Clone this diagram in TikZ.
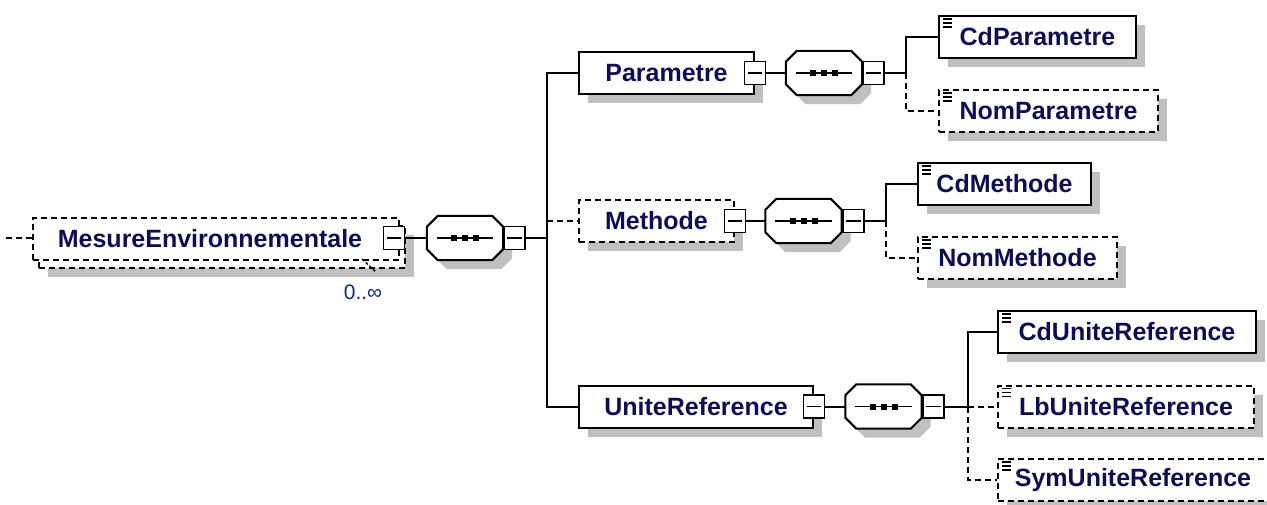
\documentclass[tikz,border=0pt]{standalone}
\usepackage{fontspec}
\setmainfont{Liberation Sans}
\usetikzlibrary{shadows}
\definecolor{txt}{RGB}{12,14,80}
\definecolor{lbl}{RGB}{20,40,120}
\definecolor{shd}{RGB}{192,192,192}
\newcommand\octpath[1]{([xshift=11pt]#1.north west) -- ([xshift=-11pt]#1.north east) -- ([yshift=-11pt]#1.north east) -- ([yshift=11pt]#1.south east) -- ([xshift=-11pt]#1.south east) -- ([xshift=11pt]#1.south west) -- ([yshift=11pt]#1.south west) -- ([yshift=-11pt]#1.north west) -- cycle}
\newcommand\seqdraw[1]{%
  \fill[shd, transform canvas={shift={(9pt,-9pt)}}] \octpath{#1};
  \draw[line width=2pt, fill=white] \octpath{#1};
  \draw[line width=1.8pt] ([xshift=10pt]#1.west) -- ([xshift=-10pt]#1.east);
  \foreach \dx in {-11,0,11} {\fill ([xshift=\dx pt]#1.center) +(-3pt,-3pt) rectangle +(3pt,3pt);}
}
\newcommand\minusline[1]{\draw[line width=1.6pt] ([xshift=4pt]#1.west) -- ([xshift=-4pt]#1.east);}
\tikzset{
  boxbase/.style={draw=black, line width=2pt, fill=white, minimum height=42pt, inner sep=0pt,
    font=\fontsize{25}{30}\selectfont\bfseries, text=txt},
  shadowed/.style={drop shadow={shadow xshift=9pt, shadow yshift=-9pt, fill=shd, opacity=1}},
  req/.style={boxbase, shadowed},
  opt/.style={boxbase, shadowed, dash pattern=on 6pt off 4pt},
  optplain/.style={boxbase, dash pattern=on 6pt off 4pt},
  minusbox/.style={draw, line width=1.8pt, fill=white, minimum width=21pt, minimum height=23pt, inner sep=0pt},
  seqnode/.style={minimum width=76pt, minimum height=44pt, inner sep=0pt},
  conn/.style={line width=2pt},
  optconn/.style={line width=2pt, dash pattern=on 6pt off 4pt},
}
\newcommand\elicon[1]{\foreach \dy in {4,8,12} {\draw[line width=1.6pt] ([xshift=5pt,yshift=-\dy pt]#1.north west) -- ([xshift=14pt,yshift=-\dy pt]#1.north west);}}
\begin{document}
\begin{tikzpicture}[x=1pt,y=-1pt]
\useasboundingbox[fill=white] (0,0) rectangle (1267,504);

% root element (repeated)
\node[opt, minimum width=366pt, minimum height=42pt, anchor=north west] (mesB) at (38,225) {};
\node[optplain, minimum width=366pt, minimum height=42pt, anchor=north west] (mes) at (32,217) {\hspace*{-12pt}MesureEnvironnementale};
\node[minusbox] (mesM) at (394,238) {};
\minusline{mesM}
\coordinate (lin) at (6,238);
\draw[optconn] (lin) -- (lin -| mes.west);
\coordinate (tickA) at (362,259);
\coordinate (tickB) at (376,272);
\draw[line width=1.4pt, dash pattern=on 3pt off 2pt] (tickA) -- (tickB);
\node[font=\fontsize{21}{24}\selectfont, text=lbl, inner sep=0pt] (mult) at (363,292) {0..∞};

% first sequence
\node[seqnode] (seq1) at (465,238) {};
\seqdraw{seq1}
\node[minusbox, anchor=west] (seq1M) at (seq1.east) {};
\minusline{seq1M}
\draw[conn] (mesM.east) -- (seq1.west);
\coordinate (b1) at (547,238);
\draw[conn] (seq1M.east) -- (b1);

% Parametre
\node[req, minimum width=175pt, anchor=west] (par) at (578,73) {Parametre};
\node[minusbox] (parM) at (par.east) {};
\minusline{parM}
\node[seqnode] (seq2) at (824,73) {};
\seqdraw{seq2}
\node[minusbox, anchor=west] (seq2M) at (seq2.east) {};
\minusline{seq2M}
\coordinate (b2) at (906,73);
\node[req, minimum width=197pt, anchor=west] (cdp) at (938,37) {CdParametre};
\elicon{cdp}
\node[opt, minimum width=219pt, anchor=west] (nomp) at (938,111) {NomParametre};
\elicon{nomp}
\draw[conn] (parM.east) -- (seq2.west);
\draw[conn] (seq2M.east) -- (b2);
\draw[conn] (b2) |- (cdp.west);
\draw[optconn] (b2) |- (nomp.west);

% Methode
\node[opt, minimum width=155pt, anchor=west] (met) at (578,221) {Methode};
\node[minusbox] (metM) at (met.east) {};
\minusline{metM}
\node[seqnode] (seq3) at (803.5,221) {};
\seqdraw{seq3}
\node[minusbox, anchor=west] (seq3M) at (seq3.east) {};
\minusline{seq3M}
\coordinate (b3) at (886,221);
\node[req, minimum width=173pt, anchor=west] (cdm) at (917,184) {CdMethode};
\elicon{cdm}
\node[opt, minimum width=199pt, anchor=west] (nomm) at (917,258) {NomMethode};
\elicon{nomm}
\draw[conn] (metM.east) -- (seq3.west);
\draw[conn] (seq3M.east) -- (b3);
\draw[conn] (b3) |- (cdm.west);
\draw[optconn] (b3) |- (nomm.west);

% UniteReference
\node[req, minimum width=234pt, anchor=west] (uni) at (578,406.5) {UniteReference};
\node[minusbox] (uniM) at (uni.east) {};
\minusline{uniM}
\node[seqnode] (seq4) at (883.5,406.5) {};
\seqdraw{seq4}
\node[minusbox, anchor=west] (seq4M) at (seq4.east) {};
\minusline{seq4M}
\coordinate (b4) at (968,406.5);
\node[req, minimum width=258pt, anchor=west] (cdu) at (997,332) {CdUniteReference};
\elicon{cdu}
\node[opt, minimum width=256pt, anchor=west] (lbu) at (997,406.5) {LbUniteReference};
\elicon{lbu}
\node[opt, minimum width=282pt, anchor=west] (symu) at (997,480) {\hspace*{-12pt}SymUniteReference};
\elicon{symu}
\draw[conn] (uniM.east) -- (seq4.west);
\draw[conn] (seq4M.east) -- (b4);
\draw[conn] (b4) |- (cdu.west);
\draw[optconn] (b4) -- (lbu.west);
\draw[optconn] (b4) |- (symu.west);

% main branches
\draw[conn] (b1) |- (par.west);
\draw[optconn] (b1 |- met.west) -- (met.west);
\draw[conn] (b1) |- (uni.west);
\end{tikzpicture}
\end{document}
